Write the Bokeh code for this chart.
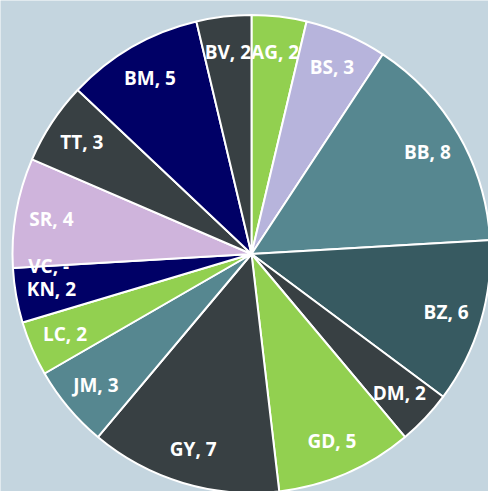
import numpy as np
from bokeh.plotting import figure
from bokeh.models import ColumnDataSource, Range1d
from bokeh.core.properties import value
from bokeh.embed import file_html
from bokeh.resources import INLINE

# Data (clockwise from 12 o'clock)
categories = ["AG", "BS", "BB", "BZ", "DM", "GD", "GY", "JM", "LC", "KN", "VC", "SR", "TT", "BM", "BV"]
values = [2, 3, 8, 6, 2, 5, 7, 3, 2, 2, 0, 4, 3, 5, 2]
colors = ["#92D050", "#B7B4DC", "#568790", "#375A61", "#384043", "#92D050", "#384043",
          "#568790", "#92D050", "#000066", "#000066", "#CFB4DC", "#384043", "#000066", "#384043"]

BG = "#C4D5DF"
W, H = 488, 491
cx, cy = 251, H - 253.5
R = 239

vals = np.array(values, dtype=float)
total = vals.sum()
cum_end = np.cumsum(vals)
cum_start = cum_end - vals
start = np.pi / 2 - cum_start / total * 2 * np.pi
end = np.pi / 2 - cum_end / total * 2 * np.pi
mid = (start + end) / 2

labels = [f"{c}, {v}" if v > 0 else f"{c}, -" for c, v in zip(categories, values)]
lr = 0.85 * R
lx = cx + lr * np.cos(mid)
ly = cy + lr * np.sin(mid)

src = ColumnDataSource(dict(start=start, end=end, color=colors, lx=lx, ly=ly, label=labels,
                            v=vals))
nz = ColumnDataSource(dict(start=start[vals > 0], end=end[vals > 0],
                           color=[c for c, v in zip(colors, values) if v > 0]))

p = figure(width=W, height=H, output_backend="svg", toolbar_location=None,
           x_range=Range1d(0, W), y_range=Range1d(0, H), min_border=0)
p.axis.visible = False
p.grid.visible = False
p.outline_line_color = None
p.background_fill_color = BG
p.border_fill_color = BG

p.wedge(x=cx, y=cy, radius=R, start_angle="start", end_angle="end", direction="clock",
        fill_color="color", line_color="white", line_width=2, source=nz)

p.text(x="lx", y="ly", text="label", source=src, text_color="white",
       text_font=value("Open Sans"), text_font_style="bold", text_font_size="19px",
       text_align="center", text_baseline="middle")

open("out.html", "w").write(file_html(p, INLINE))
